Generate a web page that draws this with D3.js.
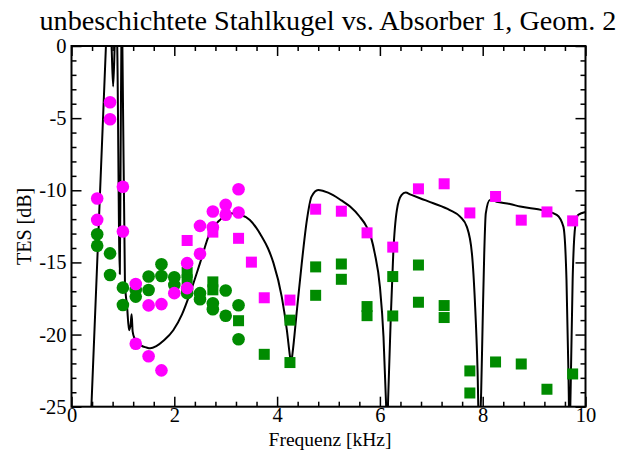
<!DOCTYPE html>
<html>
<head>
<meta charset="utf-8">
<script src="https://cdn.jsdelivr.net/npm/d3@7"></script>
<style>
  html, body { margin: 0; padding: 0; background: #fff; }
  svg { display: block; }
  text { font-family: "Liberation Serif", "Times New Roman", serif; fill: #000; }
</style>
</head>
<body>
<svg id="chart" width="636" height="450"></svg>
<script>
// ---------- data ----------
const titleText = "unbeschichtete Stahlkugel vs. Absorber 1, Geom. 2";
const xLabel = "Frequenz [kHz]";
const yLabel = "TES [dB]";
const xTicks = [0, 2, 4, 6, 8, 10];
const yTicks = [0, -5, -10, -15, -20, -25];

// theory curve (black line)
const curveF = [0.37, 0.67, 0.70, 0.76, 0.78, 0.81, 0.84, 0.86, 0.885, 0.89, 0.94, 0.955, 0.97, 0.98, 0.99, 1.04, 1.08, 1.12, 1.15, 1.17, 1.19, 1.23,
  1.27, 1.35, 1.46, 1.53, 1.65, 1.80, 1.98, 2.15, 2.31, 2.50, 2.69, 2.89, 3.08, 3.28, 3.47, 3.70, 3.82, 3.93, 4.09, 4.19, 4.25, 4.27, 4.30, 4.38, 4.48, 4.58, 4.67, 4.80,
  4.90, 5.09, 5.25, 5.42, 5.60, 5.74, 5.83, 5.90, 6.00, 6.07, 6.12, 6.14, 6.16, 6.21, 6.26, 6.33, 6.42, 6.50, 6.60, 6.78, 7.04, 7.36, 7.56, 7.69, 7.79, 7.85,
  7.90, 7.93, 7.97, 8.00, 8.03, 8.06, 8.14, 8.27, 8.53, 8.73, 9.18, 9.44, 9.57, 9.63, 9.67, 9.69, 9.71, 9.75, 9.80, 9.86, 10.0];
const curveDb = [-26.5, 0, 2, 2, 0, -2.8, 0, 2, 1, 0, -15.8, -8, 0, 1, 0, -16.5, -18, -19.7, -19.3, -18.6, -19.8, -20.3,
  -20.5, -20.75, -20.9, -20.95, -20.8, -20.4, -19.7, -18.6, -17.1, -15.05, -12.97, -12.05, -11.6, -11.7, -12.06, -13.2, -14.0, -15.05, -17.37, -19.7, -21.5, -22.0, -21.3, -18.5, -15.05, -12.05, -10.44, -9.98,
  -10.05, -10.33, -10.7, -11.13, -11.8, -12.52, -13.3, -14.37, -16.68, -20.15, -24.8, -27, -24.5, -18.99, -14.37, -11.37, -10.33, -10.16, -10.3, -10.55, -10.9, -11.37, -11.83, -12.52, -14.37, -17.83,
  -22.45, -27, -24, -18.99, -14.37, -11.6, -10.67, -10.79, -10.95, -11.13, -11.4, -11.7, -12.52, -16.2, -23.1, -27, -24, -16.2, -12.5, -11.7, -11.5];

// magenta circles
const magCircF  = [0.5, 0.5, 0.75, 0.75, 1.0, 1.0, 1.25, 1.25, 1.5, 1.5, 1.75, 1.75, 2.0, 2.25, 2.25, 2.5, 2.5, 2.75, 2.75, 3.0, 3.0, 3.25, 3.25];
const magCircDb = [-10.57, -12.05, -3.90, -5.08, -9.76, -12.86, -16.5, -20.64, -17.98, -21.5, -17.89, -22.48, -17.13, -15.05, -16.78, -12.47, -14.40, -11.47, -12.56, -11.01, -11.70, -9.93, -11.54];

// magenta squares
const magSqF  = [2.25, 2.75, 3.25, 3.5, 3.75, 4.25, 4.75, 5.25, 5.75, 6.25, 6.75, 7.25, 7.75, 8.25, 8.75, 9.25, 9.75];
const magSqDb = [-13.48, -12.9, -13.33, -14.98, -17.45, -17.61, -11.31, -11.45, -12.95, -13.94, -9.90, -9.55, -11.57, -10.43, -12.07, -11.5, -12.12];

// green circles
const grnCircF  = [0.5, 0.5, 0.75, 0.75, 1.0, 1.0, 1.25, 1.25, 1.5, 1.5, 1.75, 1.75, 2.0, 2.0, 2.25, 2.25, 2.5, 2.5, 2.75, 2.75, 3.0, 3.0, 3.25, 3.25];
const grnCircDb = [-13.05, -13.84, -14.37, -15.87, -16.75, -17.95, -16.91, -17.37, -15.98, -16.91, -15.13, -15.94, -16.03, -16.56, -16.85, -17.13, -17.13, -17.55, -17.83, -18.25, -16.95, -18.7, -17.97, -20.32];

// green squares
const grnSqF  = [2.25, 2.25, 2.75, 2.75, 3.25, 3.75, 4.25, 4.25, 4.75, 4.75, 5.25, 5.25, 5.75, 5.75, 6.25, 6.25, 6.75, 6.75, 7.25, 7.25, 7.75, 7.75, 8.25, 8.75, 9.25, 9.75];
const grnSqDb = [-15.7, -16.2, -16.35, -16.9, -19.04, -21.37, -19.0, -21.94, -15.31, -17.28, -15.11, -16.17, -18.06, -18.69, -15.98, -18.71, -15.18, -17.76, -17.99, -18.82, -22.52, -24.05, -21.9, -22.04, -23.79, -22.73];

// ---------- chart ----------
const W = 636, H = 450;
const m = { left: 71.5, right: 636 - 585.5, top: 46, bottom: 450 - 406.7 };
const svg = d3.select("#chart");

const x = d3.scaleLinear().domain([0, 10]).range([m.left, W - m.right]);
const y = d3.scaleLinear().domain([-25, 0]).range([H - m.bottom, m.top]);

const MAGENTA = "#ff00ff";
const GREEN = "#008b00";

svg.append("clipPath").attr("id", "clip")
  .append("rect")
  .attr("x", x(0)).attr("y", y(0))
  .attr("width", x(10) - x(0)).attr("height", y(-25) - y(0));

// curve
const curvePts = curveF.map((f, i) => [f, curveDb[i]]);
svg.append("path")
  .datum(curvePts)
  .attr("clip-path", "url(#clip)")
  .attr("fill", "none")
  .attr("stroke", "#000")
  .attr("stroke-width", 2)
  .attr("stroke-linejoin", "round")
  .attr("d", d3.line().x(d => x(d[0])).y(d => y(d[1])).curve(d3.curveMonotoneX));

const SQ = 11, R = 6.3;
const gMarks = svg.append("g").attr("clip-path", "url(#clip)");

function squares(fs, dbs, color) {
  gMarks.append("g").selectAll("rect")
    .data(fs.map((f, i) => [f, dbs[i]]))
    .join("rect")
    .attr("x", d => x(d[0]) - SQ / 2)
    .attr("y", d => y(d[1]) - SQ / 2)
    .attr("width", SQ).attr("height", SQ)
    .attr("fill", color);
}
function circles(fs, dbs, color) {
  gMarks.append("g").selectAll("circle")
    .data(fs.map((f, i) => [f, dbs[i]]))
    .join("circle")
    .attr("cx", d => x(d[0]))
    .attr("cy", d => y(d[1]))
    .attr("r", R)
    .attr("fill", color);
}
squares(grnSqF, grnSqDb, GREEN);
circles(grnCircF, grnCircDb, GREEN);
squares(magSqF, magSqDb, MAGENTA);
circles(magCircF, magCircDb, MAGENTA);

// axes (ticks inward on all sides)
const xMinor = d3.range(0, 10.001, 0.4).filter(v => !xTicks.some(t => Math.abs(t - v) < 1e-6));
const yMinor = d3.range(-25, 0.001, 1).filter(v => !yTicks.some(t => Math.abs(t - v) < 1e-6));

function styleAxis(g) {
  g.select(".domain").remove();
  g.selectAll(".tick line").attr("stroke", "#000").attr("stroke-width", 1.5);
  g.selectAll(".tick text").style("font-family", '"Liberation Serif", serif').style("font-size", "20.5px").attr("fill", "#000");
}

svg.append("g").attr("transform", `translate(0,${y(-25)})`)
  .call(d3.axisBottom(x).tickValues(xTicks).tickSize(-10).tickPadding(1).tickFormat(d => String(d)))
  .call(styleAxis);
svg.append("g").attr("transform", `translate(0,${y(-25)})`)
  .call(d3.axisBottom(x).tickValues(xMinor).tickSize(-5).tickFormat(""))
  .call(styleAxis);
svg.append("g").attr("transform", `translate(0,${y(0)})`)
  .call(d3.axisTop(x).tickValues(xTicks).tickSize(-10).tickFormat(""))
  .call(styleAxis);
svg.append("g").attr("transform", `translate(0,${y(0)})`)
  .call(d3.axisTop(x).tickValues(xMinor).tickSize(-5).tickFormat(""))
  .call(styleAxis);

svg.append("g").attr("transform", `translate(${x(0)},0)`)
  .call(d3.axisLeft(y).tickValues(yTicks).tickSize(-10).tickPadding(5).tickFormat(d => String(d)))
  .call(styleAxis);
svg.append("g").attr("transform", `translate(${x(0)},0)`)
  .call(d3.axisLeft(y).tickValues(yMinor).tickSize(-5).tickFormat(""))
  .call(styleAxis);
svg.append("g").attr("transform", `translate(${x(10)},0)`)
  .call(d3.axisRight(y).tickValues(yTicks).tickSize(-10).tickFormat(""))
  .call(styleAxis);
svg.append("g").attr("transform", `translate(${x(10)},0)`)
  .call(d3.axisRight(y).tickValues(yMinor).tickSize(-5).tickFormat(""))
  .call(styleAxis);

// frame
svg.append("rect")
  .attr("x", x(0)).attr("y", y(0))
  .attr("width", x(10) - x(0)).attr("height", y(-25) - y(0))
  .attr("fill", "none").attr("stroke", "#000").attr("stroke-width", 2);

// titles
svg.append("text")
  .attr("x", 328).attr("y", 30)
  .attr("text-anchor", "middle")
  .style("font-size", "28.2px")
  .text(titleText);

svg.append("text")
  .attr("x", 330).attr("y", 445.5)
  .attr("text-anchor", "middle")
  .style("font-size", "19.5px")
  .text(xLabel);

svg.append("text")
  .attr("transform", `translate(31,${(y(0) + y(-25)) / 2}) rotate(-90)`)
  .attr("text-anchor", "middle")
  .style("font-size", "20px")
  .text(yLabel);
</script>
</body>
</html>
